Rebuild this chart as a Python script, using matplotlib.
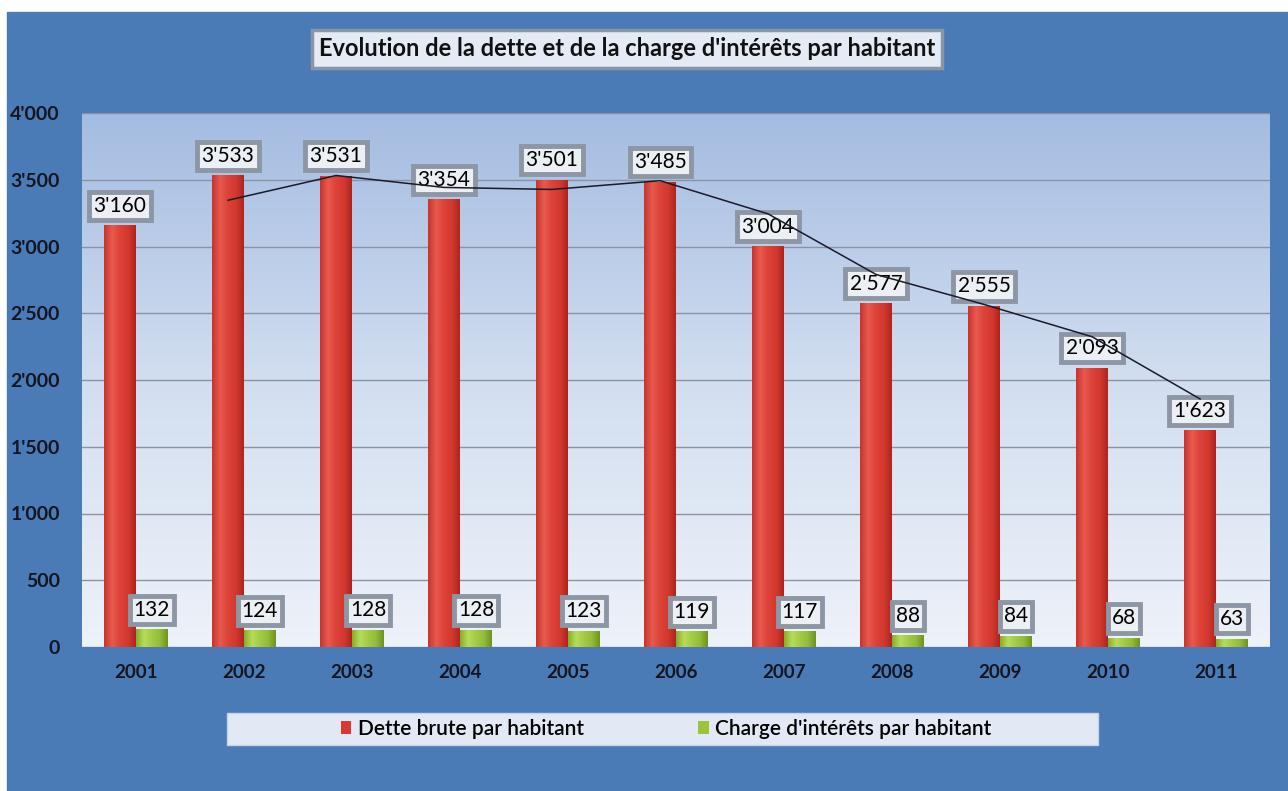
import numpy as np
import pandas as pd
import matplotlib.pyplot as plt
from matplotlib.patches import Rectangle
from matplotlib.colors import LinearSegmentedColormap

years = ['2001', '2002', '2003', '2004', '2005', '2006',
         '2007', '2008', '2009', '2010', '2011']
dette = [3160, 3533, 3531, 3354, 3501, 3485, 3004, 2577, 2555, 2093, 1623]
charge = [132, 124, 128, 128, 123, 119, 117, 88, 84, 68, 63]
yticks = [0, 500, 1000, 1500, 2000, 2500, 3000, 3500, 4000]

title = "Evolution de la dette et de la charge d'intérêts par habitant"
labels = ['Dette brute par habitant', "Charge d'intérêts par habitant"]

plt.rcParams['font.family'] = ['Lato', 'DejaVu Sans']

BLUE = '#4a7bb7'
red_cmap = LinearSegmentedColormap.from_list(
    'red', ['#c8342c', '#e85a4f', '#dc4238', '#d4392f', '#ae2620'])
green_cmap = LinearSegmentedColormap.from_list(
    'green', ['#86ad2c', '#b8dc5a', '#a3cb45', '#94bd38', '#6f9422'])
bg_cmap = LinearSegmentedColormap.from_list(
    'bg', ['#eef2f9', '#d2def0', '#a4bce1'])


def fmt(v):
    return f'{v:,}'.replace(',', "'")


def shade_bars(ax, bars, cmap):
    grad = np.linspace(0, 1, 64).reshape(1, -1)
    for b in bars:
        x0, y0 = b.get_x(), b.get_y()
        im = ax.imshow(grad, cmap=cmap, aspect='auto', zorder=b.get_zorder() + 0.1,
                       extent=[x0, x0 + b.get_width(), y0, y0 + b.get_height()])
        im.set_clip_path(b)


fig = plt.figure(figsize=(12.88, 7.91), dpi=100, facecolor='white')
fig.patches.append(Rectangle((7 / 1288, 0), 1, (791 - 12) / 791,
                             transform=fig.transFigure, color=BLUE, zorder=-5))

ax = fig.add_axes([82 / 1288, (791 - 647) / 791, (1270 - 82) / 1288, 534 / 791])
ax.patch.set_alpha(0)
ax.imshow(np.linspace(0, 1, 256).reshape(-1, 1), cmap=bg_cmap, origin='lower',
          aspect='auto', extent=[0, 1, 0, 1], transform=ax.transAxes, zorder=0)

x = np.arange(len(years))
w = 0.295
red = ax.bar(x - w / 2, dette, w, color='#d63a32', zorder=2, label=labels[0])
green = ax.bar(x + w / 2, charge, w, color='#9bc33c', zorder=2, label=labels[1])
shade_bars(ax, red, red_cmap)
shade_bars(ax, green, green_cmap)

box = dict(boxstyle='square,pad=0.2', fc='#eceff4', ec='#8d96a4', lw=3.5)
for xi, v in zip(x - w / 2, dette):
    ax.annotate(fmt(v), (xi, v), xytext=(0, 14), textcoords='offset points',
                ha='center', va='center', fontsize=15, zorder=4, bbox=box)
for xi, v in zip(x + w / 2, charge):
    ax.annotate(fmt(v), (xi, v), xytext=(0, 14), textcoords='offset points',
                ha='center', va='center', fontsize=15, zorder=4, bbox=box)

# 2-period moving average trendline of the debt series
ma = pd.Series(dette).rolling(2).mean()
ax.plot(x - w / 2, ma, color='#1a1a2a', lw=1.1, zorder=5)

ax.set_xlim(-0.5, len(years) - 0.5)
ax.set_ylim(0, 4000)
ax.set_yticks(yticks)
ax.set_yticklabels([fmt(t) for t in yticks], fontsize=14, fontweight='bold')
ax.set_xticks(x)
ax.set_xticklabels(years, fontsize=13.5, fontweight='bold')
ax.tick_params(length=0, colors='#151520')
ax.tick_params(axis='y', pad=16)
ax.tick_params(axis='x', pad=12)
ax.yaxis.grid(True, color='#8a93a3', lw=1)
ax.set_axisbelow(True)
for s in ax.spines.values():
    s.set_visible(False)

fig.text(627 / 1288, (791 - 49) / 791, title, ha='center', va='center',
         fontsize=17, fontweight='bold', color='#111111',
         bbox=dict(boxstyle='square,pad=0.3', fc='#e4ebf5', ec='#8a95a6', lw=2.5))

fig.patches.append(Rectangle((227 / 1288, (791 - 745) / 791), 871 / 1288, 32 / 791,
                             transform=fig.transFigure, fc='#e2e9f4', ec='#c8d4e6',
                             zorder=-1))
leg = fig.legend(handles=[red, green], loc='center', ncol=2, frameon=False,
                 bbox_to_anchor=(666 / 1288, (791 - 729) / 791),
                 fontsize=15, handlelength=0.5, handleheight=0.6,
                 handletextpad=0.3, columnspacing=5.5)
for t in leg.get_texts():
    t.set_fontweight('semibold')

fig.savefig('out.png', dpi=100, facecolor=fig.get_facecolor())
